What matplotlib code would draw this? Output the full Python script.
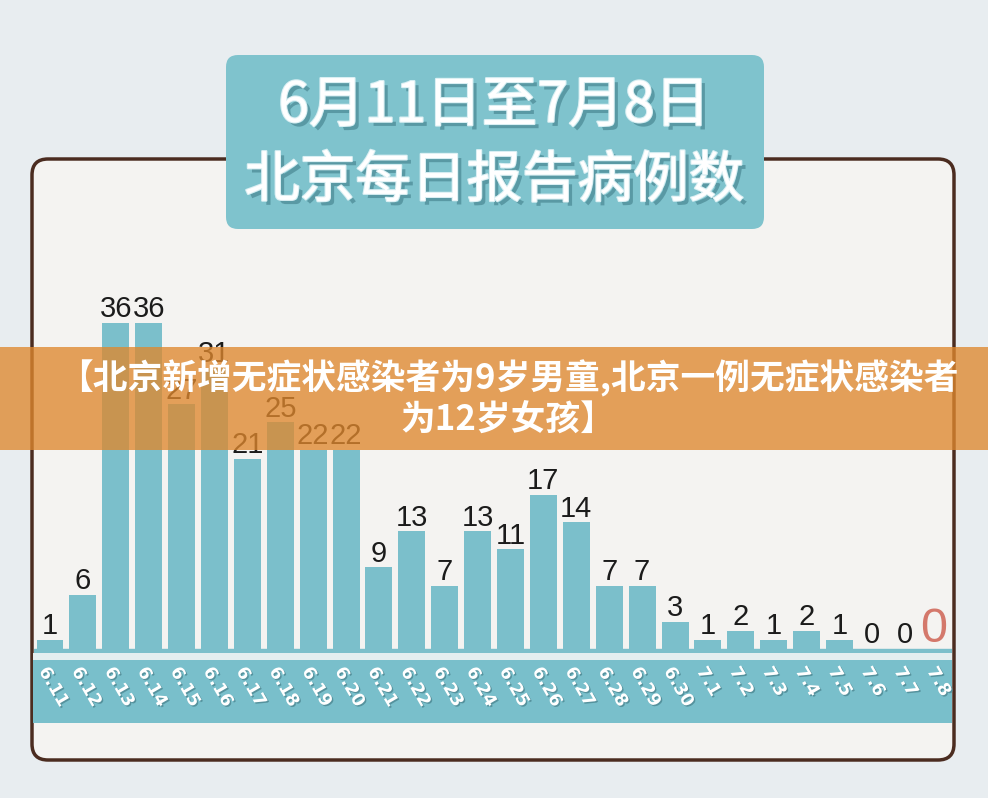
import numpy as np
import matplotlib
matplotlib.use('Agg')
import matplotlib.pyplot as plt
import matplotlib.patheffects as pe
import matplotlib.transforms as mtransforms
from matplotlib.patches import FancyBboxPatch, Rectangle

# data
dates = ['6.11', '6.12', '6.13', '6.14', '6.15', '6.16', '6.17', '6.18', '6.19', '6.20',
         '6.21', '6.22', '6.23', '6.24', '6.25', '6.26', '6.27', '6.28', '6.29', '6.30',
         '7.1', '7.2', '7.3', '7.4', '7.5', '7.6', '7.7', '7.8']
cases = [1, 6, 36, 36, 27, 31, 21, 25, 22, 22,
         9, 13, 7, 13, 11, 17, 14, 7, 7, 3,
         1, 2, 1, 2, 1, 0, 0, 0]
title_lines = ['6月11日至7月8日', '北京每日报告病例数']
banner_text = '【北京新增无症状感染者为9岁男童,北京一例无症状感染者\n为12岁女孩】'

cjk = ['Noto Sans CJK SC', 'DejaVu Sans']
teal = '#7bbfcb'

W, H = 988, 798
fig = plt.figure(figsize=(W / 100, H / 100), dpi=100)
fig.patch.set_facecolor('#e8edf0')

# background layer in pixel coords
bg = fig.add_axes([0, 0, 1, 1], zorder=0)
bg.set_xlim(0, W)
bg.set_ylim(H, 0)
bg.axis('off')

bg.add_patch(FancyBboxPatch((32, 159), 922, 601, boxstyle='round,pad=0,rounding_size=16',
                            fc='#f4f3f1', ec='#4b2c20', lw=2.5))
bg.add_patch(Rectangle((33, 653), 919, 7, fc='#e3eef0', ec='none'))
bg.add_patch(Rectangle((33, 660), 919, 63, fc='#79bfcb', ec='none'))

bg.add_patch(FancyBboxPatch((226, 55), 538, 174, boxstyle='round,pad=0,rounding_size=12',
                            fc='#7fc3cd', ec='none'))
title_fx = [pe.withSimplePatchShadow(offset=(3, -3), shadow_rgbFace='#4a8893', alpha=0.7),
            pe.withStroke(linewidth=1.5, foreground='#d9eff3')]
bg.text(494, 106, title_lines[0], ha='center', va='center', fontsize=40, color='white',
        family=cjk, fontweight='medium', path_effects=title_fx)
bg.text(494, 181, title_lines[1], ha='center', va='center', fontsize=40, color='white',
        family=cjk, fontweight='medium', path_effects=title_fx)

# bars
ax = fig.add_axes([34 / W, 1 - 653 / H, 918 / W, 353 / H], zorder=1)
ax.patch.set_alpha(0)
x = np.arange(len(dates))
ax.bar(x, cases, width=0.82, color=teal)
ax.axhspan(-0.44, 0, color=teal)
ax.set_xlim(-0.486, 27.42)
ax.set_ylim(-0.44, 38.5)
for s in ax.spines.values():
    s.set_visible(False)
ax.set_yticks([])
ax.set_xticks(x, dates)
ax.tick_params(axis='x', length=0, pad=11)

shift = mtransforms.ScaledTranslation(-7 / 100, 0, fig.dpi_scale_trans)
for t in ax.xaxis.get_major_ticks():
    lbl = t.label1
    lbl.set_rotation(-60)
    lbl.set_rotation_mode('anchor')
    lbl.set_ha('left')
    lbl.set_va('center')
    lbl.set_fontsize(12.5)
    lbl.set_fontweight('bold')
    lbl.set_color('white')
    lbl.set_path_effects([pe.withSimplePatchShadow(offset=(1, -1), shadow_rgbFace='#4d8792', alpha=0.8)])
    lbl.set_transform(lbl.get_transform() + shift)

for i, v in enumerate(cases[:-1]):
    ax.annotate(str(v), (i, v), xytext=(0, 4), textcoords='offset points',
                ha='center', va='baseline', fontsize=21, color='#1b1b1b',
                family='Liberation Sans')
ax.annotate(str(cases[-1]), (len(cases) - 1, cases[-1]), xytext=(-3.5, 5), textcoords='offset points',
            ha='center', va='baseline', fontsize=35, color='#d4786b', family='Liberation Sans')

# overlay banner
ov = fig.add_axes([0, 0, 1, 1], zorder=2)
ov.set_xlim(0, W)
ov.set_ylim(H, 0)
ov.axis('off')
ov.add_patch(Rectangle((0, 347), W, 103, fc='#df882e', ec='none', alpha=0.78))
ov.text(508, 399, banner_text, ha='center', va='center', multialignment='center',
        fontsize=25, color='white', fontweight='black', family=cjk, linespacing=1.2)

fig.savefig('out.png', dpi=100, facecolor=fig.get_facecolor())
